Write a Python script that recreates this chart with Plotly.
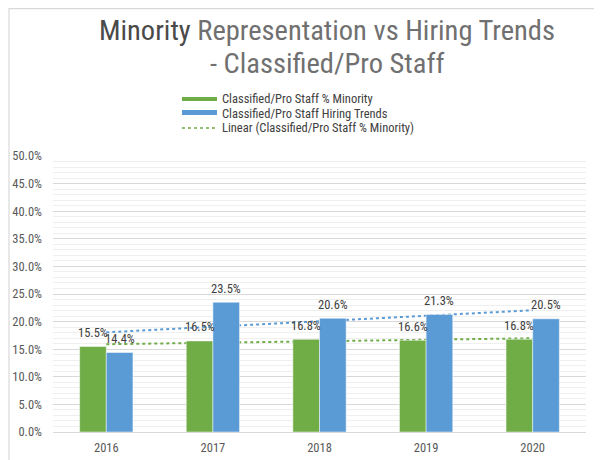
import numpy as np
import plotly.graph_objects as go

years = ["2016", "2017", "2018", "2019", "2020"]
minority_pct = [0.155, 0.165, 0.168, 0.166, 0.168]
hiring_pct = [0.144, 0.235, 0.206, 0.213, 0.205]
series_names = ["Classified/Pro Staff % Minority",
                "Classified/Pro Staff Hiring Trends",
                "Linear (Classified/Pro Staff % Minority)"]
title_lines = ["<span style='color:#4A4A4A'>Minority</span> Representation vs Hiring Trends",
               "- Classified/Pro Staff"]

GREEN = "#70AD47"
BLUE = "#5B9BD5"
FONT = "Liberation Sans Narrow, Roboto Condensed, Arial Narrow, Liberation Sans, sans-serif"

W, H = 602, 460
OFF = 8  # page body margin offset
# plot area in screen (reference) pixels
L, R, T, B = 53, 586, 156, 432


def px_x(px):
    return (px - L) / (R - L)


def px_y(py):
    return (B - py) / (B - T)


idx = list(range(len(years)))

fig = go.Figure()
fig.add_trace(go.Bar(x=idx, y=minority_pct, name=series_names[0],
                     marker=dict(color=GREEN, line=dict(color="rgba(255,255,255,0.6)", width=0.8)),
                     showlegend=False, hoverinfo="skip"))
fig.add_trace(go.Bar(x=idx, y=hiring_pct, name=series_names[1],
                     marker=dict(color=BLUE, line=dict(color="rgba(255,255,255,0.6)", width=0.8)),
                     showlegend=False, hoverinfo="skip"))

shapes = []
# linear trendlines (drawn between gridlines and bars)
for vals, col in [(minority_pct, GREEN), (hiring_pct, BLUE)]:
    slope, intercept = np.polyfit(idx, vals, 1)
    shapes.append(dict(type="line", xref="x", yref="y", layer="between",
                       x0=idx[0], x1=idx[-1],
                       y0=intercept + slope * idx[0], y1=intercept + slope * idx[-1],
                       line=dict(color=col, width=2, dash="dot")))

# chart border (light grey)
shapes.append(dict(type="rect", xref="paper", yref="paper", layer="below",
                   x0=px_x(9), x1=px_x(640), y0=px_y(500), y1=px_y(8.6),
                   line=dict(color="#D9D9D9", width=1.2), fillcolor="rgba(0,0,0,0)"))

# custom legend symbols
shapes.append(dict(type="rect", xref="paper", yref="paper", layer="above",
                   x0=px_x(182), x1=px_x(217), y0=px_y(101), y1=px_y(97),
                   line=dict(width=0), fillcolor=GREEN))
shapes.append(dict(type="rect", xref="paper", yref="paper", layer="above",
                   x0=px_x(182), x1=px_x(217), y0=px_y(115), y1=px_y(110),
                   line=dict(width=0), fillcolor=BLUE))
shapes.append(dict(type="line", xref="paper", yref="paper", layer="above",
                   x0=px_x(182), x1=px_x(217), y0=px_y(128), y1=px_y(128),
                   line=dict(color=GREEN, width=1.5, dash="dot")))

annotations = []
# title (two lines)
for line_text, top_px in zip(title_lines, [11.5, 45.0]):
    annotations.append(dict(xref="paper", yref="paper", x=px_x(327), y=px_y(top_px),
                            xanchor="center", yanchor="top", showarrow=False, align="center",
                            text=line_text,
                            font=dict(family=FONT, size=28.5, color="#707070")))
for i, name in enumerate(series_names):
    annotations.append(dict(xref="paper", yref="paper", x=px_x(220), y=px_y(98.5 + 14.5 * i),
                            xanchor="left", yanchor="middle", showarrow=False,
                            text=name, font=dict(family=FONT, size=12.5, color="#404040")))

# data labels
for vals, shift in [(minority_pct, -13.3), (hiring_pct, 13.3)]:
    for i, v in zip(idx, vals):
        annotations.append(dict(xref="x", yref="y", x=i, y=v, xshift=shift, yshift=14,
                                xanchor="center", yanchor="middle", showarrow=False,
                                text=f"{v * 100:.1f}%",
                                font=dict(family=FONT, size=12.5, color="#404040")))

fig.update_layout(
    width=W, height=H,
    margin=dict(l=L - OFF, r=W - (R - OFF), t=T - OFF, b=H - (B - OFF), pad=0),
    paper_bgcolor="white", plot_bgcolor="white",
    barmode="group", bargap=0.5, bargroupgap=0,
    xaxis=dict(range=[-0.5, len(years) - 0.5], tickmode="array", tickvals=idx, ticktext=years,
               showgrid=False, showline=False, ticks="", automargin=False,
               tickfont=dict(family=FONT, size=12.5, color="#595959"), ticklabelstandoff=6),
    yaxis=dict(range=[0, 0.5], dtick=0.05, tickformat=".1%", showline=False, ticks="",
               automargin=False,
               gridcolor="#D9D9D9", gridwidth=1, zeroline=True, zerolinecolor="#D9D9D9",
               zerolinewidth=1, ticklabelstandoff=10,
               tickfont=dict(family=FONT, size=12.5, color="#595959"),
               minor=dict(dtick=0.01, showgrid=True, gridcolor="#EFEFEF", gridwidth=1)),
    shapes=shapes, annotations=annotations, showlegend=False,
)

fig.write_html("out.html")
